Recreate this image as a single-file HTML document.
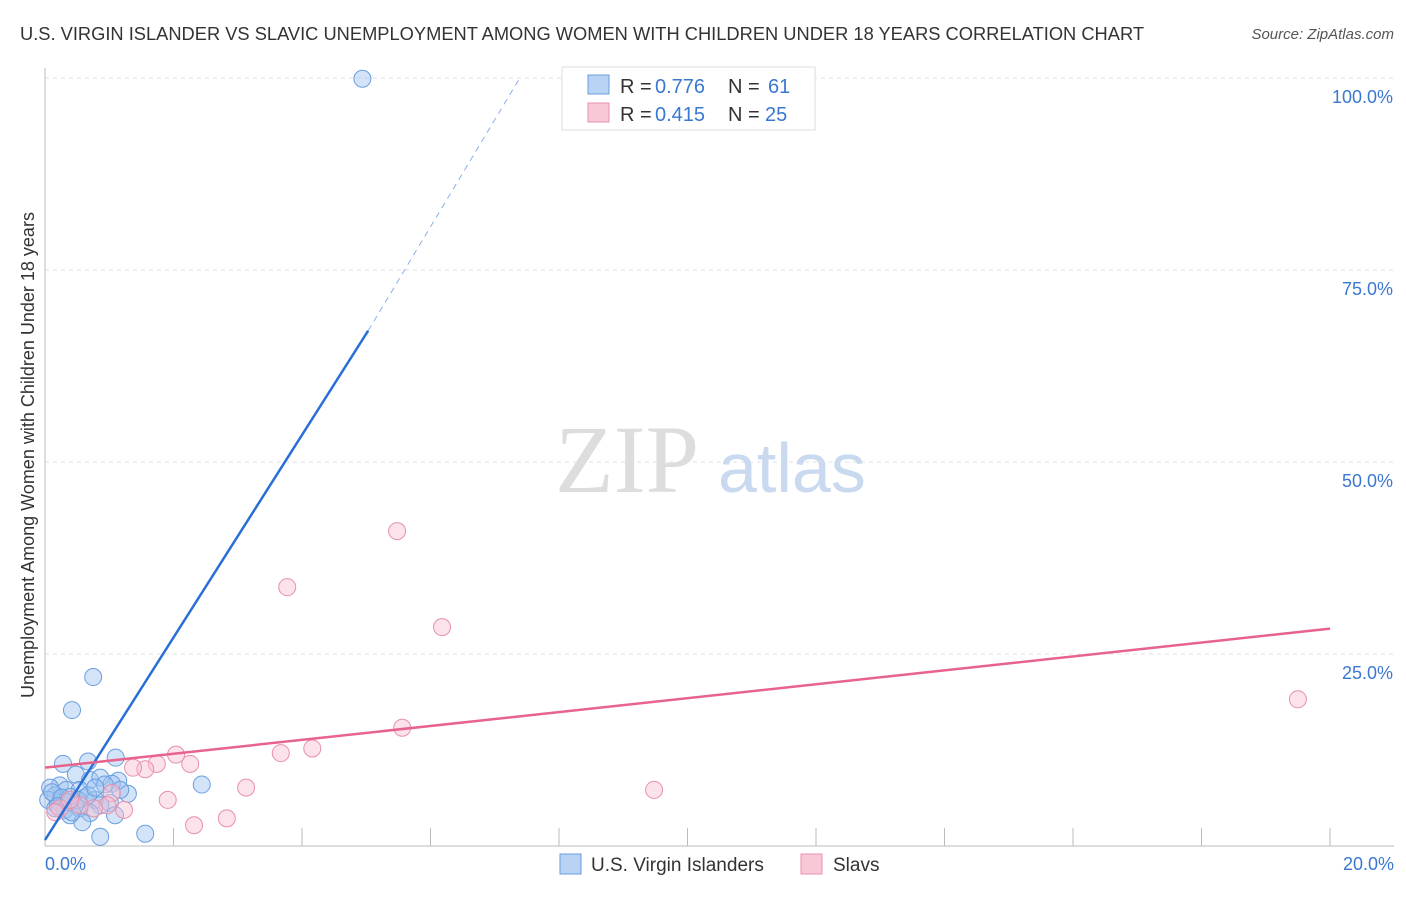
<!DOCTYPE html>
<html><head><meta charset="utf-8"><style>
body{margin:0;background:#fff;font-family:"Liberation Sans",sans-serif;}
</style></head><body>
<svg width="1406" height="892" xmlns="http://www.w3.org/2000/svg">
<text x="20" y="40" font-size="18" fill="#333" textLength="1124" lengthAdjust="spacingAndGlyphs">U.S. VIRGIN ISLANDER VS SLAVIC UNEMPLOYMENT AMONG WOMEN WITH CHILDREN UNDER 18 YEARS CORRELATION CHART</text>
<text x="1394" y="39" font-size="15" fill="#555" text-anchor="end" font-style="italic">Source: ZipAtlas.com</text>
<g id="grid"></g>
<text x="555" y="492" font-size="96" fill="#ddd" font-family="Liberation Serif">ZIP</text>
<text x="718" y="492" font-size="70" fill="#c9d9f0">atlas</text>
<text transform="translate(34,455) rotate(-90)" font-size="18" fill="#333" text-anchor="middle">Unemployment Among Women with Children Under 18 years</text>
<g id="marks"></g>
<g>
<rect x="562" y="67" width="253" height="63" fill="#fff" stroke="#ddd"/>
<rect x="588" y="75" width="21" height="19" fill="#b9d3f5" stroke="#6a9ee0"/>
<rect x="588" y="103" width="21" height="19" fill="#f8c8d6" stroke="#e890aa"/>
<text x="620" y="93" font-size="20" fill="#333">R =</text><text x="655" y="93" font-size="20" fill="#3a78d0">0.776</text>
<text x="728" y="93" font-size="20" fill="#333">N =</text><text x="768" y="93" font-size="20" fill="#3a78d0">61</text>
<text x="620" y="121" font-size="20" fill="#333">R =</text><text x="655" y="121" font-size="20" fill="#3a78d0">0.415</text>
<text x="728" y="121" font-size="20" fill="#333">N =</text><text x="765" y="121" font-size="20" fill="#3a78d0">25</text>
</g>
<g>
<rect x="560" y="854" width="21" height="20" fill="#b9d3f5" stroke="#6a9ee0"/>
<text x="591" y="871" font-size="19" fill="#333">U.S. Virgin Islanders</text>
<rect x="801" y="854" width="21" height="20" fill="#f8c8d6" stroke="#e890aa"/>
<text x="833" y="871" font-size="19" fill="#333">Slavs</text>
</g>
</svg>
<script>
const yTicks=[25,50,75,100];
const yTickLabels=["25.0%","50.0%","75.0%","100.0%"];
const xTickLabels=["0.0%","20.0%"];
const blueX=[4.94,0.75,0.42,1.1,0.28,0.67,0.48,0.7,0.86,1.14,1.04,1.29,2.44,0.23,0.08,0.33,0.54,0.16,0.39,0.62,0.78,0.05,0.23,0.47,1.01,0.31,0.54,0.86,0.7,0.39,0.16,1.09,0.58,0.86,1.56,0.11,0.26,0.51,0.36,0.2,0.42,0.67,0.93,1.17,0.78];
const blueY=[99.9,22.0,17.7,11.5,10.7,11.0,9.3,8.6,8.9,8.5,8.1,6.8,8.0,7.9,7.6,7.3,7.3,6.6,6.4,6.3,6.0,6.0,5.6,5.3,5.6,4.7,4.9,5.3,4.3,4.0,4.9,4.0,3.1,1.2,1.6,7.0,6.3,6.0,5.7,5.2,4.4,6.6,8.0,7.3,7.6];
const pinkX=[5.48,3.77,6.18,5.56,19.5,4.16,3.67,2.04,2.26,1.74,1.56,1.37,3.13,9.48,1.91,1.04,1.23,0.97,0.76,2.32,2.83,0.23,0.16,0.54,0.39];
const pinkY=[41.0,33.7,28.5,15.4,19.1,12.7,12.1,11.9,10.7,10.7,10.0,10.2,7.6,7.3,6.0,6.9,4.7,5.3,4.9,2.7,3.6,4.9,4.4,5.3,6.0];
const blueLine=[[0,0.78],[5.03,67.1],[7.39,100]];
const pinkLine=[[0,10.2],[20,28.3]];
const X=v=>45+v/20*1285, Y=v=>846-v*7.68;
const NS="http://www.w3.org/2000/svg";
function mk(t,a,p){const e=document.createElementNS(NS,t);for(const k in a)e.setAttribute(k,a[k]);p.appendChild(e);return e;}
const g=document.getElementById('grid'),m=document.getElementById('marks');
yTicks.forEach((t,i)=>{const l=mk('line',{x1:45,x2:1394,y1:Y(t),y2:Y(t),stroke:'#e2e2e2','stroke-dasharray':'4,4'},g);

const tx=mk('text',{x:1393,y:Y(t)+25,'font-size':18,fill:'#3a78d0','text-anchor':'end'},g);tx.textContent=yTickLabels[i];
});
let ax=mk('line',{x1:45,x2:45,y1:68,y2:846,stroke:'#bbb'},g);
ax=mk('line',{x1:45,x2:1394,y1:846,y2:846,stroke:'#bbb'},g);
for(let i=1;i<=10;i++){const t=mk('line',{x1:X(i*2),x2:X(i*2),y1:828,y2:846,stroke:'#bbb'},g);}
[[0,'start',45],[20,'end',1394]].forEach((d,i)=>{const t=mk('text',{x:d[2],y:870,'font-size':18,fill:'#3a78d0','text-anchor':d[1]},g);t.textContent=xTickLabels[i];
});
blueX.forEach((v,i)=>{const c=mk('circle',{cx:X(v),cy:Y(blueY[i]),r:8.5,fill:'rgba(160,195,240,0.45)',stroke:'#6a9ee0','stroke-width':1},m);
});
pinkX.forEach((v,i)=>{const c=mk('circle',{cx:X(v),cy:Y(pinkY[i]),r:8.5,fill:'rgba(248,190,210,0.45)',stroke:'#e890aa','stroke-width':1},m);
});
let l=mk('line',{x1:X(blueLine[0][0]),y1:Y(blueLine[0][1]),x2:X(blueLine[1][0]),y2:Y(blueLine[1][1]),stroke:'#2a6fd6','stroke-width':2.5},m);

l=mk('line',{x1:X(blueLine[1][0]),y1:Y(blueLine[1][1]),x2:X(blueLine[2][0]),y2:Y(blueLine[2][1]),stroke:'#8ab0e8','stroke-width':1,'stroke-dasharray':'6,5'},m);

l=mk('line',{x1:X(pinkLine[0][0]),y1:Y(pinkLine[0][1]),x2:X(pinkLine[1][0]),y2:Y(pinkLine[1][1]),stroke:'#e8628e','stroke-width':2.5},m);

</script>
</body></html>
